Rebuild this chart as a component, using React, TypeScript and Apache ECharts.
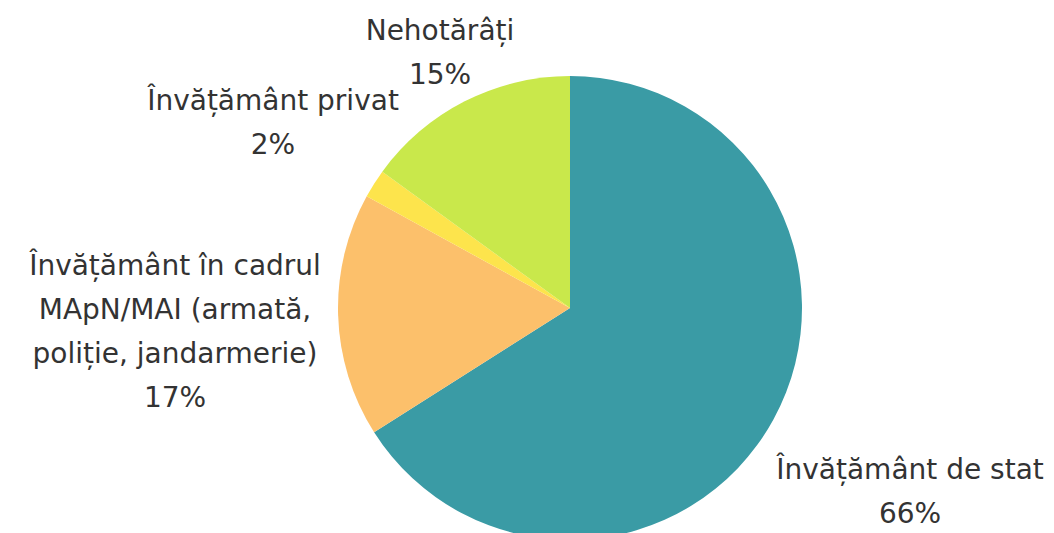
import React, { useEffect, useRef } from "react";
import * as echarts from "echarts";

const categories = [
  "Învățământ de stat",
  "Învățământ în cadrul\nMApN/MAI (armată,\npoliție, jandarmerie)",
  "Învățământ privat",
  "Nehotărâți",
];
const values = [66, 17, 2, 15];
const colors = ["#3a9ba5", "#fcc06b", "#fde44c", "#c9e84b"];
const labelPos: [number, number][] = [
  [910, 447],
  [175, 243],
  [273, 78],
  [440, 8],
];

export default function App() {
  const ref = useRef<HTMLDivElement>(null);
  useEffect(() => {
    document.body.style.margin = "0";
    const chart = echarts.init(ref.current!, null, { renderer: "svg" });
    chart.setOption({
      animation: false,
      backgroundColor: "#ffffff",
      series: [
        {
          type: "pie",
          center: [570, 308],
          radius: 232,
          startAngle: 90,
          clockwise: true,
          data: categories.map((c, i) => ({
            name: c,
            value: values[i],
            itemStyle: { color: colors[i] },
          })),
          label: {
            show: true,
            formatter: (p: any) => `${p.name}\n${p.value}%`,
            color: "#333333",
            fontFamily: "DejaVu Sans",
            fontSize: 28,
            fontWeight: "normal",
            lineHeight: 44,
            align: "center",
            overflow: "none",
            width: 400,
          },
          labelLine: { show: false },
          labelLayout: (p: any) => ({
            x: labelPos[p.dataIndex][0],
            y: labelPos[p.dataIndex][1],
            align: "center",
            verticalAlign: "top",
          }),
          emphasis: { disabled: true },
        },
      ],
    });
    return () => chart.dispose();
  }, []);
  return <div ref={ref} style={{ width: 1054, height: 533 }} />;
}
